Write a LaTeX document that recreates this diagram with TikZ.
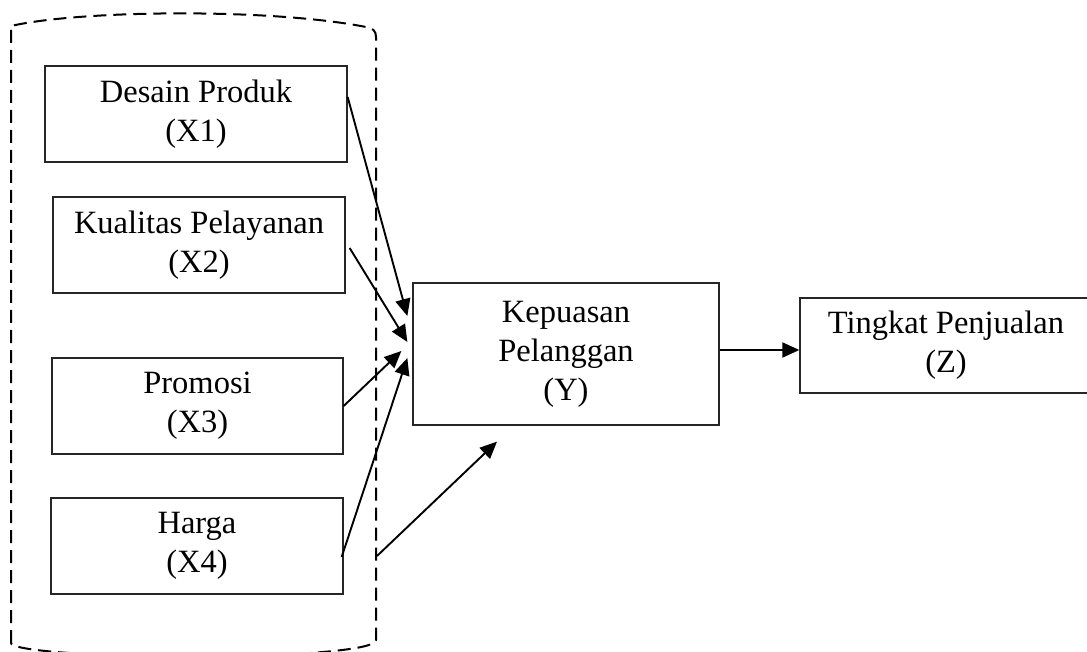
\documentclass[tikz,border=0pt]{standalone}
\usepackage{fontspec}
\setmainfont{Liberation Serif}
\usetikzlibrary{positioning,arrows.meta}

\begin{document}
\begin{tikzpicture}[
    x=1pt, y=-1pt,
    font=\fontsize{32.5}{39}\selectfont,
    block/.style={rectangle, draw=black!85, line width=1.3pt, inner sep=0pt, align=center},
    arrow/.style={-{Triangle[length=17pt,width=15pt]}, line width=1.9pt},
    grpline/.style={line width=2pt, dash pattern=on 13pt off 7pt}
]
    \useasboundingbox (0,0) rectangle (1087,652);

    \draw[grpline] (11,643) -- (11,26) .. controls (80,10) and (270,8) .. (366,27)
        .. controls (373,28) and (376,31) .. (376,37) -- (376,640)
        .. controls (376,650) and (300,656) .. (190,657)
        .. controls (80,656) and (11,650) .. (11,643);
    \coordinate (grp) at (377,556);

    \node[block, minimum width=302pt, minimum height=96pt] (x1) at (196,114) {Desain Produk\\(X1)};
    \node[block, minimum width=292pt, minimum height=96pt] (x2) at (199,245) {Kualitas Pelayanan\\(X2)};
    \node[block, minimum width=291pt, minimum height=96pt] (x3) at (197.5,406) {Promosi\\(X3)};
    \node[block, minimum width=292pt, minimum height=96pt] (x4) at (197,546) {Harga\\(X4)};
    \node[block, minimum width=306pt, minimum height=142pt] (y) at (566,354) {Kepuasan\\Pelanggan\\(Y)};
    \node[block, minimum width=292pt, minimum height=95pt] (z) at (946,345.5) {Tingkat Penjualan\\(Z)};

    \draw[arrow] ([yshift=17pt]x1.east) -- ([xshift=-5pt,yshift=38pt]y.west);
    \draw[arrow] ([xshift=4pt,yshift=-3pt]x2.east) -- ([xshift=-5pt,yshift=12pt]y.west);
    \draw[arrow] (x3.east) -- ([xshift=-11pt,yshift=3pt]y.west);
    \draw[arrow] ([xshift=-2pt,yshift=-11pt]x4.east) -- ([xshift=-5pt,yshift=-4pt]y.west);
    \draw[arrow] (grp) -- ([xshift=-69pt,yshift=-16pt]y.south);
    \draw[arrow] ([yshift=4pt]y.east) -- ([yshift=4pt]y.east -| z.west);
\end{tikzpicture}
\end{document}
